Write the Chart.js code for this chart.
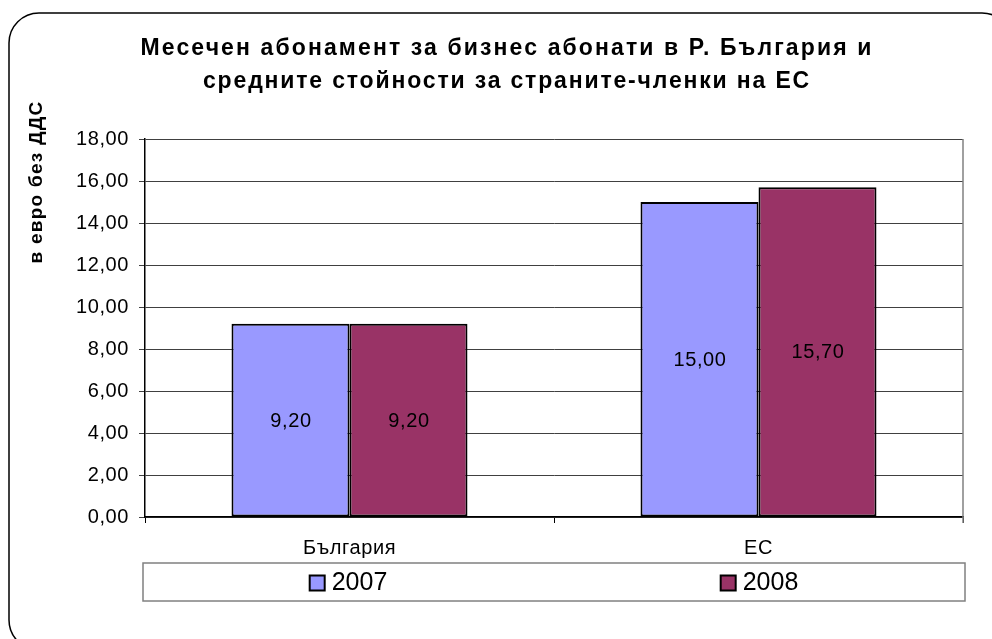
<!DOCTYPE html>
<html>
<head>
<meta charset="utf-8">
<script src="https://cdn.jsdelivr.net/npm/chart.js@4"></script>
<style>
  html, body { margin: 0; padding: 0; background: #ffffff; }
  #wrap { width: 992px; height: 639px; position: relative; }
</style>
</head>
<body>
<div id="wrap"><canvas id="c" width="992" height="639"></canvas></div>
<script>
const categories = ['България', 'ЕС'];
const seriesNames = ['2007', '2008'];
const values2007 = [9.20, 15.00];
const values2008 = [9.20, 15.70];
const seriesColors = ['#9999FF', '#993366'];
const yMin = 0, yMax = 18, yStep = 2;
const titleLines = ['Месечен абонамент за бизнес абонати в Р. България и', 'средните стойности за страните-членки на ЕС'];
const yAxisTitle = 'в евро без ДДС';

const FONT = "'Liberation Sans', Arial, sans-serif";
const fmt = v => Number(v).toFixed(2).replace('.', ',');

function fitText(ctx, text, target) {
  ctx.letterSpacing = '0px';
  const w = ctx.measureText(text).width;
  const n = [...text].length;
  const ls = Math.max(0, (target - w) / n);
  ctx.letterSpacing = ls + 'px';
  return ls;
}

const decor = {
  id: 'decor',
  beforeDraw(chart) {
    const ctx = chart.ctx;
    ctx.save();
    // outer rounded frame
    ctx.strokeStyle = '#000';
    ctx.lineWidth = 1.5;
    ctx.beginPath();
    ctx.roundRect(9, 13, 1003, 637, 30);
    ctx.stroke();
    // title
    ctx.fillStyle = '#000';
    ctx.font = 'bold 23px ' + FONT;
    ctx.textAlign = 'center';
    ctx.textBaseline = 'alphabetic';
    fitText(ctx, titleLines[0], 733);
    ctx.fillText(titleLines[0], 507, 55);
    fitText(ctx, titleLines[1], 608);
    ctx.fillText(titleLines[1], 507, 88);
    // y axis title
    ctx.font = 'bold 19px ' + FONT;
    fitText(ctx, yAxisTitle, 163);
    ctx.translate(42, 182);
    ctx.rotate(-Math.PI / 2);
    ctx.fillText(yAxisTitle, 0, 0);
    ctx.restore();
    ctx.letterSpacing = '0.6px';
  },
  afterDraw(chart) {
    const ctx = chart.ctx;
    const a = chart.chartArea;
    ctx.save();
    ctx.letterSpacing = '0px';
    // right plot border
    ctx.strokeStyle = '#808080';
    ctx.lineWidth = 1.5;
    ctx.beginPath();
    ctx.moveTo(a.right, a.top);
    ctx.lineTo(a.right, a.bottom + 6);
    ctx.stroke();
    // legend box
    const bx = a.left - 2, by = 563, bw = a.right - a.left + 4, bh = 38;
    ctx.strokeStyle = '#808080';
    ctx.lineWidth = 1.5;
    ctx.strokeRect(bx, by, bw, bh);
    ctx.font = '25px ' + FONT;
    ctx.textBaseline = 'middle';
    ctx.textAlign = 'left';
    const sq = 15, gap = 7;
    chart.data.datasets.forEach((ds, i) => {
      const cx = bx + (i + 0.5) * bw / chart.data.datasets.length;
      const tw = ctx.measureText(ds.label).width;
      const total = sq + gap + tw;
      const x0 = cx - total / 2;
      const cy = by + bh / 2;
      ctx.fillStyle = ds.backgroundColor;
      ctx.fillRect(x0, cy - sq / 2 + 1, sq, sq);
      ctx.strokeStyle = '#000';
      ctx.lineWidth = 2;
      ctx.strokeRect(x0, cy - sq / 2 + 1, sq, sq);
      ctx.fillStyle = '#000';
      ctx.fillText(ds.label, x0 + sq + gap, cy + 1);
    });
    ctx.restore();
  }
};

const dataLabels = {
  id: 'dataLabels',
  afterDatasetsDraw(chart) {
    const ctx = chart.ctx;
    ctx.save();
    ctx.font = '20px ' + FONT;
    ctx.letterSpacing = '0.6px';
    ctx.fillStyle = '#000';
    ctx.textAlign = 'center';
    ctx.textBaseline = 'middle';
    chart.data.datasets.forEach((ds, i) => {
      const meta = chart.getDatasetMeta(i);
      meta.data.forEach((el, j) => {
        const p = el.getProps(['x', 'y', 'base'], true);
        ctx.fillText(fmt(ds.data[j]), p.x + 0.5, (p.y + p.base) / 2 + 1);
      });
    });
    ctx.restore();
  }
};

new Chart(document.getElementById('c'), {
  type: 'bar',
  data: {
    labels: categories,
    datasets: [
      { label: seriesNames[0], data: values2007, backgroundColor: seriesColors[0], borderColor: '#000', borderWidth: 2, borderSkipped: false },
      { label: seriesNames[1], data: values2008, backgroundColor: seriesColors[1], borderColor: '#000', borderWidth: 2, borderSkipped: false }
    ]
  },
  options: {
    responsive: false,
    devicePixelRatio: 1,
    animation: false,
    layout: { padding: { left: 0, top: 139, right: 29, bottom: 0 } },
    datasets: { bar: { categoryPercentage: 0.577, barPercentage: 1.0 } },
    plugins: { legend: { display: false }, title: { display: false }, tooltip: { enabled: false } },
    scales: {
      x: {
        afterFit(s) { s.height = 122; },
        grid: { offset: true, drawOnChartArea: false, drawTicks: true, tickLength: 6, color: '#000', lineWidth: 1 },
        border: { color: '#000', width: 1.5 },
        ticks: { color: '#000', font: { family: FONT, size: 20 }, padding: 13 }
      },
      y: {
        min: yMin, max: yMax,
        afterFit(s) { s.width = 145; },
        grid: { color: '#404040', lineWidth: 1, drawTicks: true, tickLength: 6 },
        border: { color: '#000', width: 1.5 },
        ticks: { stepSize: yStep, color: '#000', font: { family: FONT, size: 20 }, padding: 10, callback: v => fmt(v) }
      }
    }
  },
  plugins: [decor, dataLabels]
});
</script>
</body>
</html>
